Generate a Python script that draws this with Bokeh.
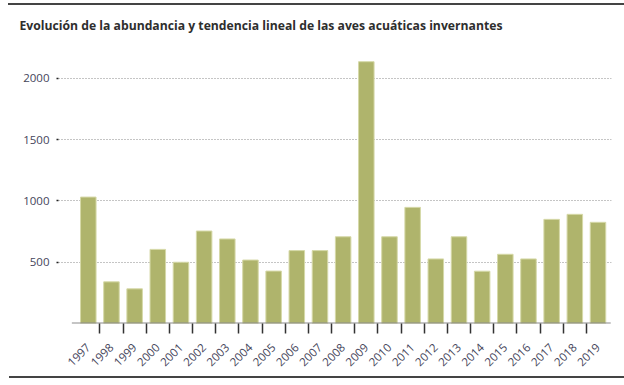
from bokeh.plotting import figure
from bokeh.models import FixedTicker, Range1d
from bokeh.embed import file_html
from bokeh.resources import INLINE
from math import pi

title_text = "Evolución de la abundancia y tendencia lineal de las aves acuáticas invernantes"
years = [str(y) for y in range(1997, 2020)]
values = [1032, 340, 283, 605, 500, 755, 690, 518, 428, 595, 595, 708, 2137,
          708, 948, 527, 708, 427, 565, 527, 850, 891, 826]
y_ticks = [500, 1000, 1500, 2000]

xs = list(range(len(years)))
bar_color = "#afb46c"
text_color = "#45455a"

p = figure(width=624, height=385, output_backend="svg", toolbar_location=None,
           x_range=Range1d(-1.286, len(years) - 1 + 0.583),
           y_range=Range1d(0, 2310),
           min_border_left=58, min_border_right=13, min_border_top=40, min_border_bottom=62)

p.vbar(x=xs, top=values, width=0.67, fill_color=bar_color, line_color="#d6d9a8", line_width=1)

# baseline
p.segment(x0=[-0.71], y0=[0], x1=[len(years) - 1 + 0.55], y1=[0], line_color="#8c8c8c", line_width=2)

p.outline_line_color = None
p.background_fill_color = "white"
p.border_fill_color = None
p.styles = {
    "background": "linear-gradient(#444444, #444444) 8px 3px / 616px 2px no-repeat, "
                  "linear-gradient(#444444, #444444) 9px 376px / 615px 2px no-repeat, white"
}

# x axis
p.xaxis.ticker = FixedTicker(ticks=xs, minor_ticks=[i + 0.5 for i in xs[:-1]])
p.xaxis.major_label_overrides = {i: y for i, y in zip(xs, years)}
p.xaxis.major_label_orientation = pi / 4
p.xaxis.axis_line_color = None
p.xaxis.major_tick_line_color = None
p.xaxis.major_tick_out = 0
p.xaxis.major_tick_in = 0
p.xaxis.minor_tick_out = 10
p.xaxis.minor_tick_in = 0
p.xaxis.minor_tick_line_color = "#333333"
p.xaxis.minor_tick_line_width = 1.5
p.xaxis.major_label_standoff = 12
p.xaxis.major_label_text_font = "Open Sans"
p.xaxis.major_label_text_font_size = "11.5px"
p.xaxis.major_label_text_color = text_color
p.xgrid.grid_line_color = None

# y axis
p.yaxis.ticker = FixedTicker(ticks=y_ticks)
p.yaxis.axis_line_color = None
p.yaxis.major_tick_out = 2
p.yaxis.major_tick_in = 0
p.yaxis.major_tick_line_color = "#222222"
p.yaxis.major_tick_line_width = 1.5
p.yaxis.minor_tick_line_color = None
p.yaxis.major_label_standoff = 7
p.yaxis.major_label_text_font = "Open Sans"
p.yaxis.major_label_text_font_size = "11.5px"
p.yaxis.major_label_text_color = text_color
p.ygrid.ticker = FixedTicker(ticks=y_ticks)
p.ygrid.grid_line_color = "#8a8a8a"
p.ygrid.grid_line_dash = "1 2"
p.ygrid.grid_line_width = 1

# title
p.title.text = title_text
p.title.text_font = "Open Sans"
p.title.text_font_style = "bold"
p.title.text_font_size = "12.2px"
p.title.text_color = "#2e2e2e"
p.title.align = "left"
p.title.offset = -39
p.title.standoff = 14

open("out.html", "w").write(file_html(p, INLINE))
